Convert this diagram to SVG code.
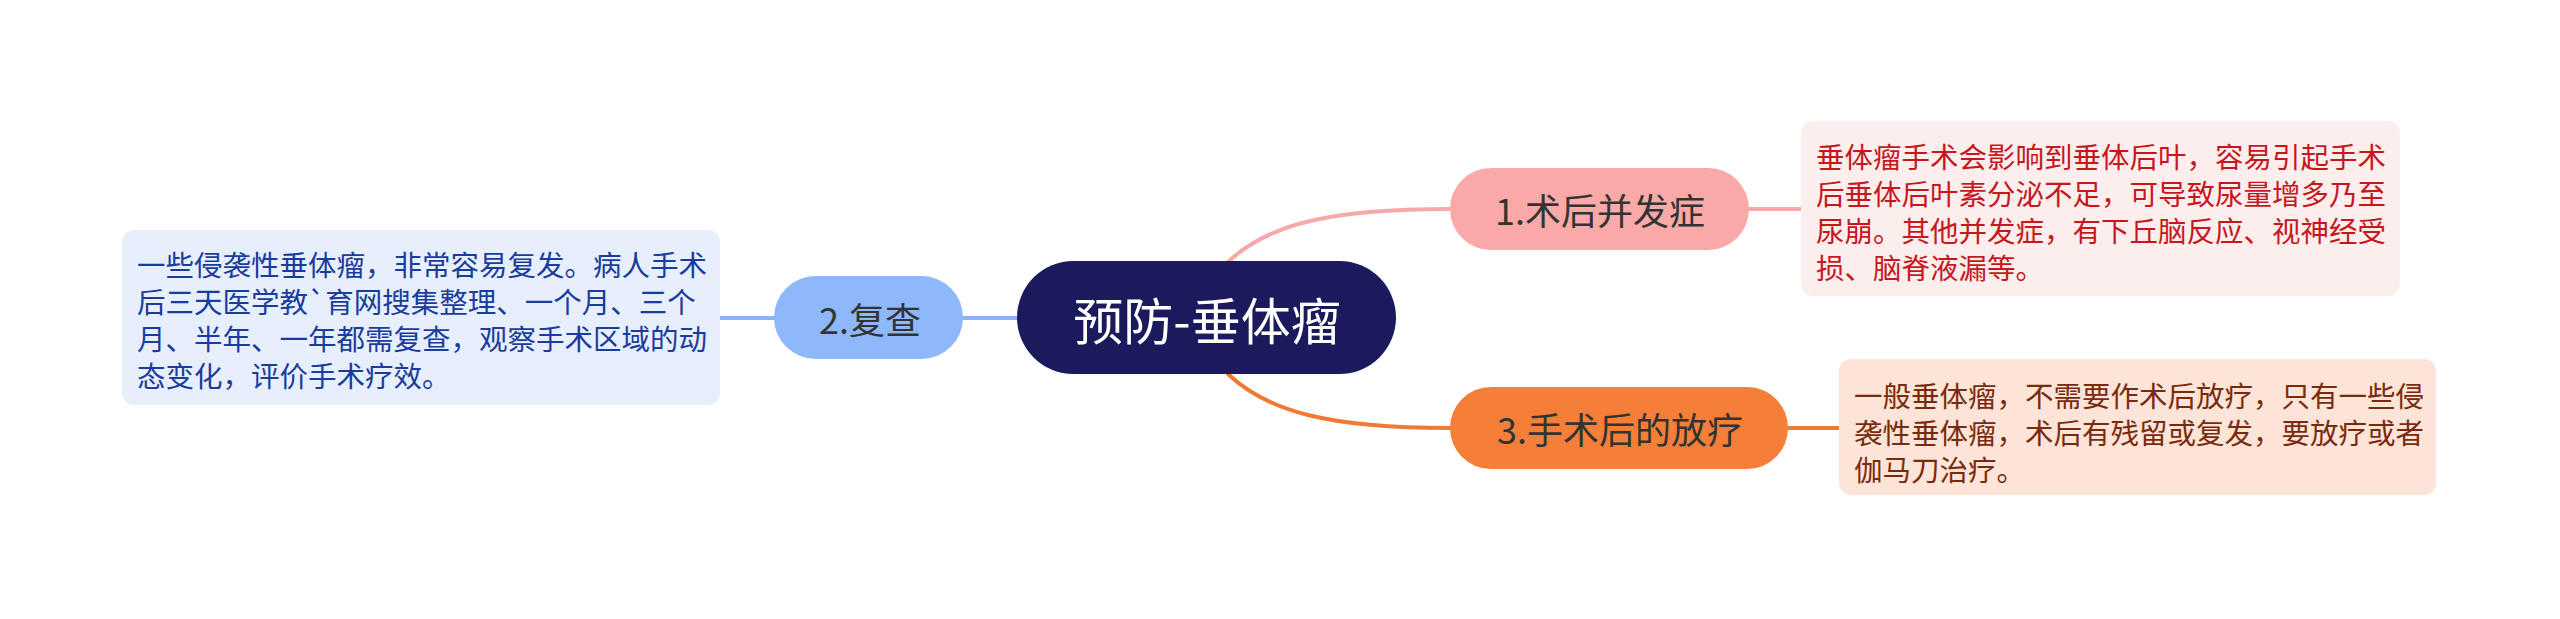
<svg xmlns="http://www.w3.org/2000/svg" width="2560" height="619" viewBox="0 0 2560 619">
<style>
text{font-family:"Noto Sans CJK SC","Noto Sans",sans-serif;}
.conn{fill:none;stroke-width:4;stroke-linecap:round;}
.nt{font-size:36px;fill:#333333;text-anchor:middle;dominant-baseline:central;}
.dt{font-size:28.5px;dominant-baseline:central;}
</style>
<rect width="2560" height="619" fill="#ffffff"/>
<g id="connectors">
<path class="conn" stroke="#f5a9a8" d="M1228 262 C1268 224 1330 209 1450 209"/>
<path class="conn" stroke="#f07a32" d="M1228 374 C1268 412 1330 428 1450 428"/>
<path class="conn" stroke="#8ab4f8" d="M963 318 L1017 318"/>
<path class="conn" stroke="#8ab4f8" d="M720 318 L774 318"/>
<path class="conn" stroke="#f5a9a8" d="M1749 209 L1801 209"/>
<path class="conn" stroke="#f07a32" d="M1788 428 L1839 428"/>
</g>
<g id="root">
<rect x="1017" y="261" width="379" height="113" rx="56.5" fill="#1b1a5c"/>
<text x="1207" y="318" font-size="50" fill="#ffffff" text-anchor="middle" dominant-baseline="central">预防-垂体瘤</text>
</g>
<g id="n1">
<rect x="1450" y="168" width="299" height="82" rx="41" fill="#f9aaa8"/>
<text class="nt" x="1600" y="209">1.术后并发症</text>
</g>
<g id="n2">
<rect x="774" y="276" width="189" height="83" rx="41.5" fill="#8fb8fb"/>
<text class="nt" x="870" y="318">2.复查</text>
</g>
<g id="n3">
<rect x="1450" y="387" width="338" height="82" rx="41" fill="#f57f38"/>
<text class="nt" x="1620" y="428">3.手术后的放疗</text>
</g>
<g id="d1">
<rect x="1801" y="121" width="599" height="175" rx="12" fill="#fdeeee"/>
<text class="dt" fill="#c8161d" x="1816" y="155">垂体瘤手术会影响到垂体后叶，容易引起手术</text>
<text class="dt" fill="#c8161d" x="1816" y="192">后垂体后叶素分泌不足，可导致尿量增多乃至</text>
<text class="dt" fill="#c8161d" x="1816" y="229">尿崩。其他并发症，有下丘脑反应、视神经受</text>
<text class="dt" fill="#c8161d" x="1816" y="266">损、脑脊液漏等。</text>
</g>
<g id="d2">
<rect x="122" y="230" width="598" height="175" rx="12" fill="#e8effc"/>
<text class="dt" fill="#1a3c9c" x="137" y="263">一些侵袭性垂体瘤，非常容易复发。病人手术</text>
<text class="dt" fill="#1a3c9c" x="137" y="300">后三天医学教`育网搜集整理、一个月、三个</text>
<text class="dt" fill="#1a3c9c" x="137" y="337">月、半年、一年都需复查，观察手术区域的动</text>
<text class="dt" fill="#1a3c9c" x="137" y="374">态变化，评价手术疗效。</text>
</g>
<g id="d3">
<rect x="1839" y="359" width="597" height="136" rx="12" fill="#fde4d8"/>
<text class="dt" fill="#7a2a0c" x="1854" y="394">一般垂体瘤，不需要作术后放疗，只有一些侵</text>
<text class="dt" fill="#7a2a0c" x="1854" y="431">袭性垂体瘤，术后有残留或复发，要放疗或者</text>
<text class="dt" fill="#7a2a0c" x="1854" y="468">伽马刀治疗。</text>
</g>
</svg>
